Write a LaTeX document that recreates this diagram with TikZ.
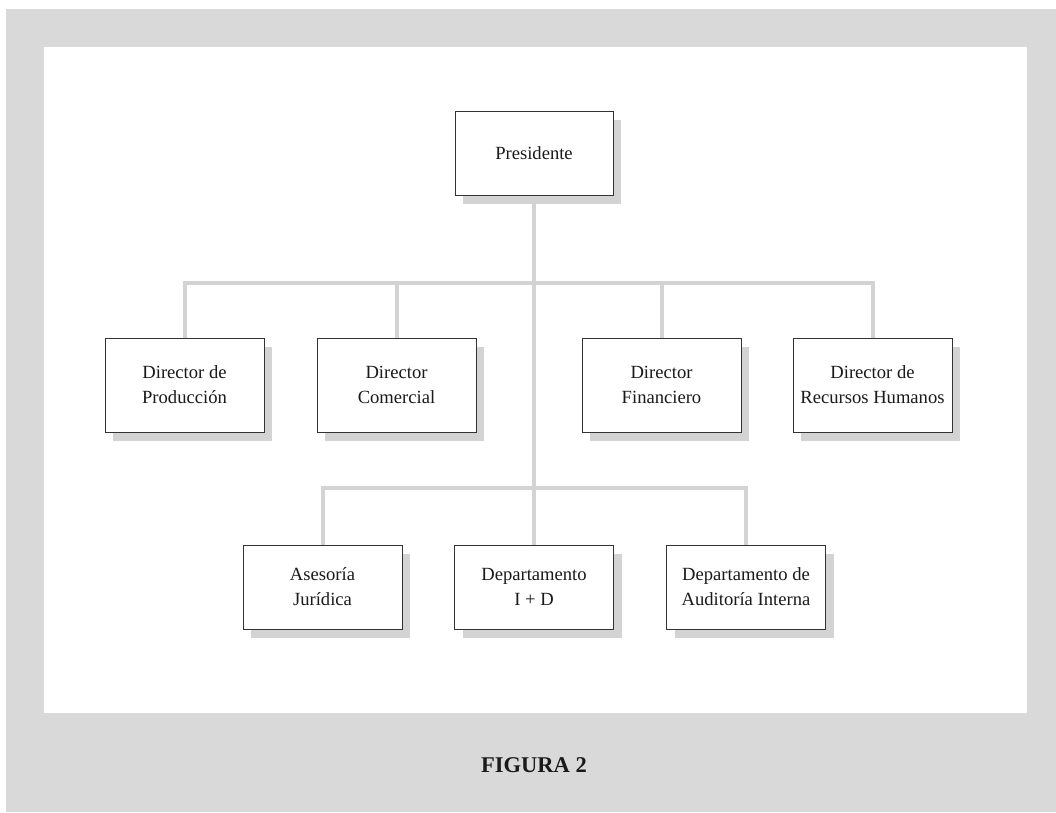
\documentclass[tikz,border=0pt]{standalone}
\usepackage{fontspec}
\setmainfont{Liberation Serif}
\usetikzlibrary{shadows}
\pgfdeclarelayer{bglayer}
\pgfdeclarelayer{linelayer}
\pgfsetlayers{bglayer,linelayer,main}
\definecolor{bggray}{HTML}{D9D9D9}
\definecolor{linegray}{HTML}{D3D3D3}
\definecolor{shadowgray}{HTML}{D3D3D3}
\definecolor{boxline}{HTML}{333333}
\definecolor{txt}{HTML}{1A1A1A}
\tikzset{
  orgbox/.style={draw=boxline, line width=0.8pt, fill=white, align=center,
    inner sep=0pt, minimum width=159pt, text=txt,
    font=\fontsize{18.6}{25}\selectfont,
    drop shadow={shadow xshift=8pt, shadow yshift=-9pt, fill=shadowgray, opacity=1}},
  tallbox/.style={orgbox, minimum height=94pt},
  shortbox/.style={orgbox, minimum height=84pt},
  conn/.style={draw=linegray, line width=4pt},
}
\begin{document}
\begin{tikzpicture}[x=1pt, y=-1pt]
  \useasboundingbox (0,0) rectangle (1056,812);
  \begin{pgfonlayer}{bglayer}
    \fill[bggray] (6,9) rectangle (1056,812);
    \fill[white] (44,47) rectangle (1027,713);
  \end{pgfonlayer}

  % boxes
  \node[shortbox, minimum width=158pt] (pres) at (534,153) {Presidente};

  \node[tallbox] (prod) at (184.5,385) {Director de\\Producción};
  \node[tallbox] (com)  at (396.5,385) {Director\\Comercial};
  \node[tallbox] (fin)  at (661.5,385) {Director\\Financiero};
  \node[tallbox] (rh)   at (872.5,385) {Director de\\Recursos Humanos};

  \node[shortbox] (ase) at (322.5,587) {Asesoría\\Jurídica};
  \node[shortbox] (id)  at (534,587) {Departamento\\I + D};
  \node[shortbox] (aud) at (746,587) {Departamento de\\Auditoría Interna};

  \node[font=\fontsize{22.5}{27}\selectfont\bfseries, text=txt] (cap) at (534,765) {FIGURA 2};

  % junctions of the bars
  \coordinate (top) at (534,283);
  \coordinate (low) at (534,488);

  % connectors
  \begin{pgfonlayer}{linelayer}
    \draw[conn] (pres.south) -- (id.north);
    \draw[conn] (prod.north) |- (top) -| (rh.north);
    \draw[conn] (com.north) -- (com.north |- top);
    \draw[conn] (fin.north) -- (fin.north |- top);
    \draw[conn] (ase.north) |- (low) -| (aud.north);
  \end{pgfonlayer}
\end{tikzpicture}
\end{document}
